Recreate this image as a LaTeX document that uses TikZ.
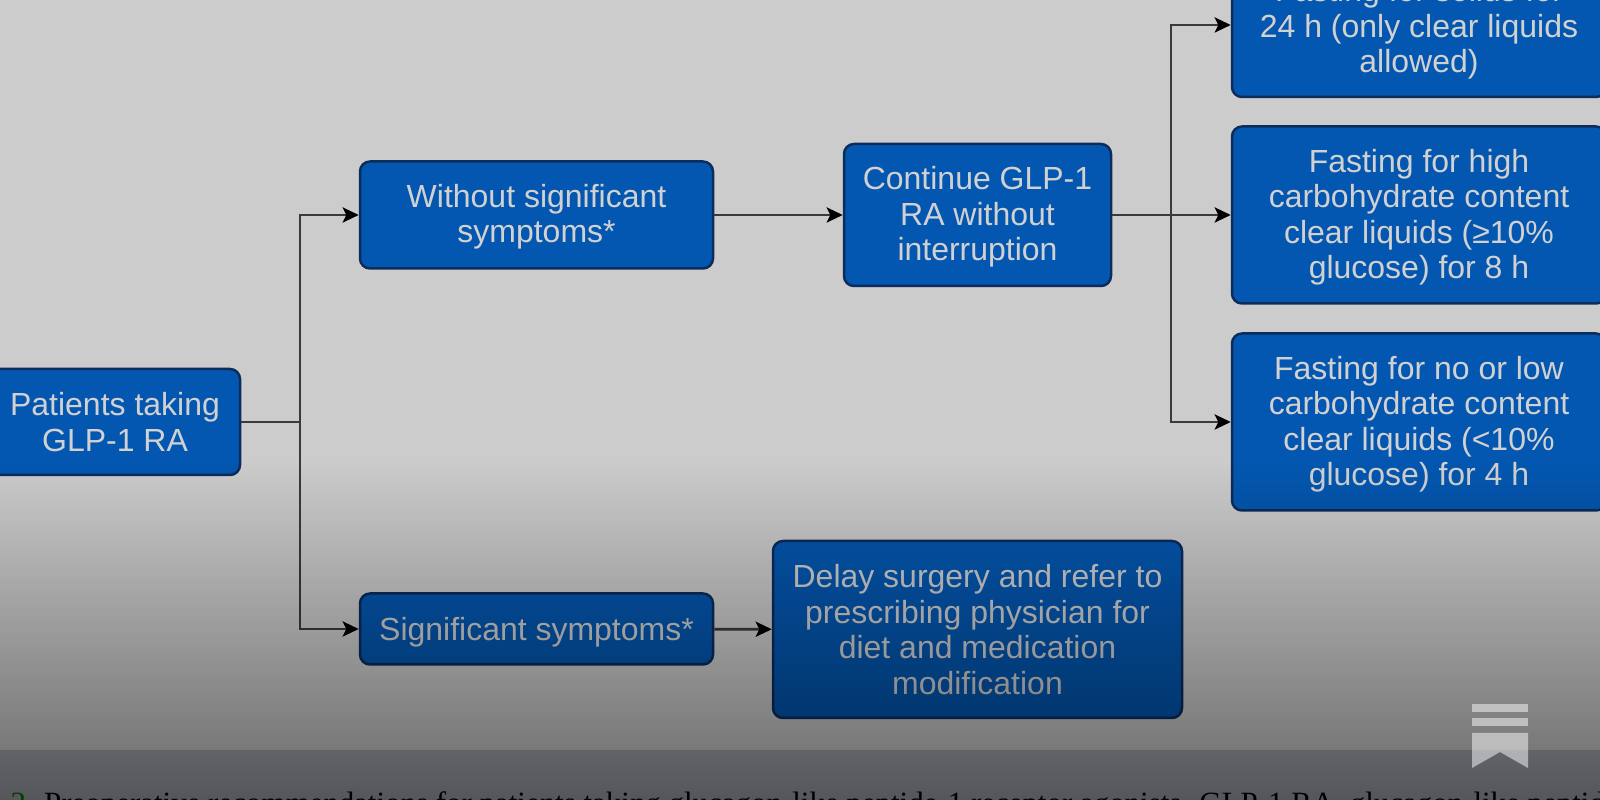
\documentclass[tikz,border=0pt]{standalone}
\usepackage{fontspec}
\usepackage{xcolor}
\usepackage{tikz}
\usetikzlibrary{arrows.meta}
\usetikzlibrary{fadings}
\setmainfont{Liberation Sans}
\newfontfamily\captionfont{Liberation Serif}
\definecolor{boxblue}{HTML}{0457B0}
\definecolor{boxedge}{HTML}{0C2C5C}
\definecolor{linkgray}{HTML}{3A3A3A}
\definecolor{pagegray}{HTML}{CCCCCC}
\definecolor{bandtop}{HTML}{616369}
\definecolor{bandbot}{HTML}{55565A}
\newcommand{\nudge}[1]{\rule{0pt}{#1}}
\tikzfading[name=dimdown, top color=transparent!100, bottom color=transparent!59]
\tikzset{
  stepbox/.style={draw=boxedge, line width=0.25mm, fill=boxblue, rounded corners=1mm,
    text=white!82!black, align=center, inner sep=0pt, font=\fontsize{9.1pt}{10.1pt}\selectfont},
  link/.style={draw=linkgray, line width=0.28mm},
  linkto/.style={link, -{Stealth[length=1.6mm, width=1.5mm, inset=0.35mm, black]}}
}

\begin{document}
\begin{tikzpicture}[x=0.1mm, y=-0.1mm]
    \clip (0,0) rectangle (1600,800);
    \fill[pagegray] (0,0) rectangle (1600,800);

    % left column
    \node[stepbox, minimum width=25mm, minimum height=10.6mm] (patients) at (115,422) {Patients taking\\GLP-1 RA};
    \coordinate (busleft) at (300,422);

    % middle column
    \node[stepbox, minimum width=35.3mm, minimum height=10.7mm] (without) at (536.5,215) {\nudge{7.6pt}Without significant\\symptoms*};
    \node[stepbox, minimum width=35.3mm, minimum height=7.1mm] (significant) at (536.5,629) {\nudge{8.3pt}Significant symptoms*};
    \node[stepbox, minimum width=26.7mm, minimum height=14.2mm] (continue) at (977.5,215) {\nudge{7.8pt}Continue GLP-1\\RA without\\interruption};
    \node[stepbox, minimum width=40.9mm, minimum height=17.7mm] (delay) at (977.5,629.5) {Delay surgery and refer to\\prescribing physician for\\diet and medication\\modification};
    \coordinate (busright) at (1171,215);

    % right column
    \node[stepbox, minimum width=37.4mm, minimum height=14.4mm] (solids) at (1419,25) {\nudge{8.9pt}Fasting for solids for\\24 h (only clear liquids\\allowed)};
    \node[stepbox, minimum width=37.4mm, minimum height=17.7mm] (high) at (1419,215) {\nudge{7.8pt}Fasting for high\\carbohydrate content\\clear liquids (≥10\%\\glucose) for 8 h};
    \node[stepbox, minimum width=37.4mm, minimum height=17.7mm] (low) at (1419,422) {\nudge{7.8pt}Fasting for no or low\\carbohydrate content\\clear liquids (<10\%\\glucose) for 4 h};

    \draw[link] (patients) -- (busleft);
    \draw[linkto] (busleft) |- (without);
    \draw[linkto] (busleft) |- (significant);
    \draw[linkto] (without) -- (continue);
    \draw[linkto] (significant) -- (delay);
    \draw[linkto] (continue) -- (high);
    \draw[linkto] (busright) |- (solids);
    \draw[linkto] (busright) |- (low);

    % dark veil over the lower part
    \fill[black, path fading=dimdown] (0,460) rectangle (1600,751);
    \shade[top color=bandtop, bottom color=bandbot] (0,751) rectangle (1600,800);
    \node[anchor=base west, inner sep=0pt, text=black, font=\captionfont\fontsize{8.8pt}{10pt}\selectfont] (caption)
      at (10,814) {\textcolor{green!25!black}{2.} Preoperative recommendations for patients taking glucagon-like peptide-1 receptor agonists. GLP-1 RA, glucagon-like peptide};

    % bookmark mark
    \begin{scope}[fill=white, fill opacity=0.5]
      \foreach \y in {704,718}{
        \fill (1472,\y) rectangle (1528,\y+8);
      }
      \fill (1472,733) -- (1528,733) -- (1528,768) -- (1500,752) -- (1472,768) -- cycle;
    \end{scope}
  \end{tikzpicture}
\end{document}
